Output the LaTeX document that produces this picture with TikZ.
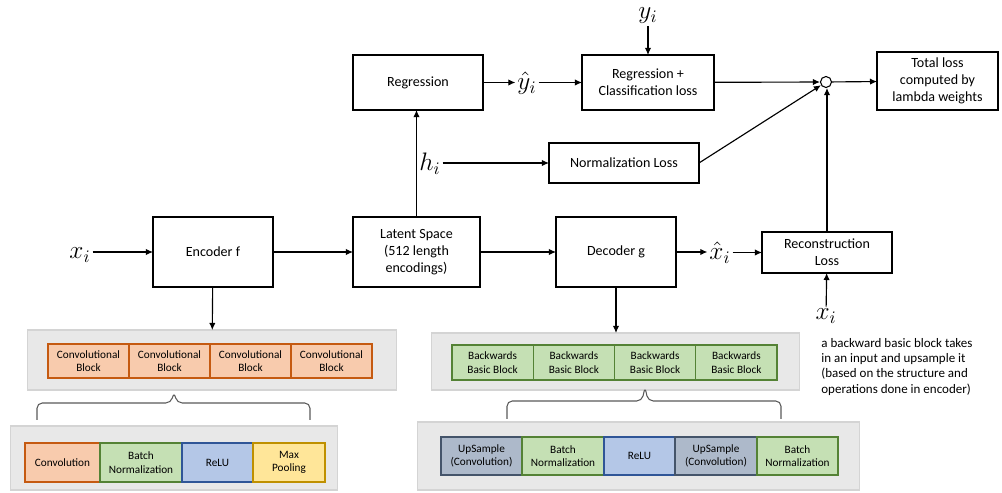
\documentclass[tikz,border=0pt]{standalone}
\usepackage{fontspec}
\setmainfont{Carlito}
\usetikzlibrary{arrows.meta,positioning}

\definecolor{orangefill}{HTML}{F8CBAD}
\definecolor{orangeline}{HTML}{C55A11}
\definecolor{greenfill}{HTML}{C5E0B4}
\definecolor{greenline}{HTML}{548235}
\definecolor{bluefill}{HTML}{B4C7E7}
\definecolor{blueline}{HTML}{2F5597}
\definecolor{yellowfill}{HTML}{FFE699}
\definecolor{yellowline}{HTML}{BF9000}
\definecolor{slatefill}{HTML}{ADB9CA}
\definecolor{slateline}{HTML}{44546A}
\definecolor{panelfill}{HTML}{E8E8E8}
\definecolor{panelline}{HTML}{D4D4D4}

\tikzset{
  box/.style={draw, line width=0.75pt, align=center, inner sep=0pt, outer sep=0pt,
    font=\fontsize{8}{9.6}\selectfont},
  panel/.style={fill=panelfill, draw=panelline, line width=0.6pt, inner sep=0pt, outer sep=0pt},
  layer/.style={line width=0.6pt, align=center, inner sep=0pt, outer sep=0pt,
    font=\fontsize{6.4}{7.6}\selectfont},
  conv/.style={layer, fill=orangefill, draw=orangeline},
  bnorm/.style={layer, fill=greenfill, draw=greenline},
  relu/.style={layer, fill=bluefill, draw=blueline},
  maxpool/.style={layer, fill=yellowfill, draw=yellowline},
  upsample/.style={layer, fill=slatefill, draw=slateline},
  var/.style={inner sep=1pt, font=\fontsize{14}{16}\selectfont},
  arr/.style={-{Latex[length=4pt,width=3.6pt]}, line width=0.65pt},
  curly/.style={draw=gray!70!black, line width=0.6pt, rounded corners=3pt}
}

\begin{document}
\begin{tikzpicture}[x=0.02cm, y=-0.02cm]
\useasboundingbox (0,0) rectangle (1002,493);

% Main pipeline
\node[var] (xin) at (80,255) {$x_i$};
\node[box, minimum width=2.4cm, minimum height=1.4cm] (enc) at (213,252) {Encoder f};
\node[box, minimum width=2.54cm, minimum height=1.4cm] (lat) at (416.5,252) {Latent Space\\(512 length\\encodings)};
\node[box, minimum width=2.4cm, minimum height=1.4cm] (dec) at (616,252) {Decoder g};
\node[var] (xhat) at (720,253) {$\hat{x}_i$};
\node[box, minimum width=2.6cm, minimum height=0.82cm] (rec) at (827,252.5) {Reconstruction\\Loss};
\node[var] (xtgt) at (826,316) {$x_i$};

% Upper branch
\node[box, minimum width=2.6cm, minimum height=1.1cm] (reg) at (418,82.5) {Regression};
\node[var] (yhat) at (527,83) {$\hat{y}_i$};
\node[box, minimum width=2.64cm, minimum height=1.1cm] (cls) at (648,82.5) {Regression +\\Classification loss};
\node[var] (ytgt) at (648,16) {$y_i$};
\node[draw, circle, line width=0.6pt, minimum size=0.22cm, inner sep=0pt] (sum) at (826,82) {};
\node[box, minimum width=2.42cm, minimum height=1.16cm] (tot) at (937.5,81) {Total loss\\computed by\\lambda weights};
\node[var] (hid) at (430,164) {$h_i$};
\node[box, minimum width=3.0cm, minimum height=0.8cm] (nrm) at (624,163) {Normalization Loss};

\draw[arr] (xin.east |- enc.west) -- (enc.west);
\draw[arr] (enc) -- (lat);
\draw[arr] (lat) -- (dec);
\draw[arr] (dec.east) -- (xhat.west |- dec.east);
\draw[arr] (xhat.east |- rec.west) -- (rec.west);
\draw[arr] (xtgt) -- (rec);
\draw[arr] (lat.north) -- (lat.north |- reg.south);
\draw[arr] (reg.east) -- (yhat.west |- reg.east);
\draw[arr] (yhat.east |- cls.west) -- (cls.west);
\draw[arr] (ytgt) -- (cls);
\draw[arr] (hid.east |- nrm.west) -- (nrm.west);
\draw[arr] (cls) -- (sum);
\draw[arr] (nrm.east) -- (sum);
\draw[arr] (rec.north) -- (rec.north |- sum.south);
\draw[arr] (sum) -- (tot);

% Encoder blocks
\node[panel, minimum width=7.4cm, minimum height=1.2cm] (encpanel) at (212,360) {};
\foreach \i/\cx in {1/88.5, 2/169.5, 3/250.5, 4/331.5}
  \node[conv, minimum width=1.62cm, minimum height=0.68cm] (cb\i) at (\cx,361) {Convolutional\\Block};
\draw[arr] (enc) -- (encpanel);

% Convolutional block layers
\draw[curly] (37,420) -- (37,403) -- (171,403) -- (174,392) -- (177,403) -- (310,403) -- (310,420);
\node[panel, minimum width=6.56cm, minimum height=1.28cm] (convpanel) at (174,458) {};
\node[conv, minimum width=1.5cm, minimum height=0.78cm] (cv) at (62.5,462.5) {Convolution};
\node[bnorm, minimum width=1.64cm, minimum height=0.78cm] (bn) at (141,462.5) {Batch\\Normalization};
\node[relu, minimum width=1.42cm, minimum height=0.78cm] (rl) at (217.5,462.5) {ReLU};
\node[maxpool, minimum width=1.44cm, minimum height=0.78cm] (mp) at (289,462.5) {Max\\Pooling};

% Decoder blocks
\node[panel, minimum width=7.38cm, minimum height=1.14cm] (decpanel) at (615.5,361.5) {};
\foreach \i/\cx in {1/492.6, 2/573.9, 3/655.1, 4/736.4}
  \node[bnorm, minimum width=1.625cm, minimum height=0.7cm] (bb\i) at (\cx,362.5) {Backwards\\Basic Block};
\draw[arr] (dec) -- (dec |- decpanel.north);

% Backwards basic block layers
\draw[curly] (507,419) -- (507,401) -- (642,401) -- (645,387) -- (648,401) -- (781,401) -- (781,419);
\node[panel, minimum width=8.86cm, minimum height=1.36cm] (uppanel) at (638.5,456) {};
\node[upsample, minimum width=1.62cm, minimum height=0.76cm] (us1) at (481.5,456) {UpSample\\(Convolution)};
\node[bnorm, minimum width=1.64cm, minimum height=0.76cm] (bn1) at (563,456) {Batch\\Normalization};
\node[relu, minimum width=1.42cm, minimum height=0.76cm] (rl1) at (639.5,456) {ReLU};
\node[upsample, minimum width=1.64cm, minimum height=0.76cm] (us2) at (716,456) {UpSample\\(Convolution)};
\node[bnorm, minimum width=1.62cm, minimum height=0.76cm] (bn2) at (797.5,456) {Batch\\Normalization};

% Note
\node[align=left, anchor=north west, inner sep=0pt, font=\fontsize{7.4}{8.7}\selectfont] (note) at (821,338)
  {a backward basic block takes\\in an input and upsample it\\(based on the structure and\\operations done in encoder)};
\end{tikzpicture}
\end{document}
